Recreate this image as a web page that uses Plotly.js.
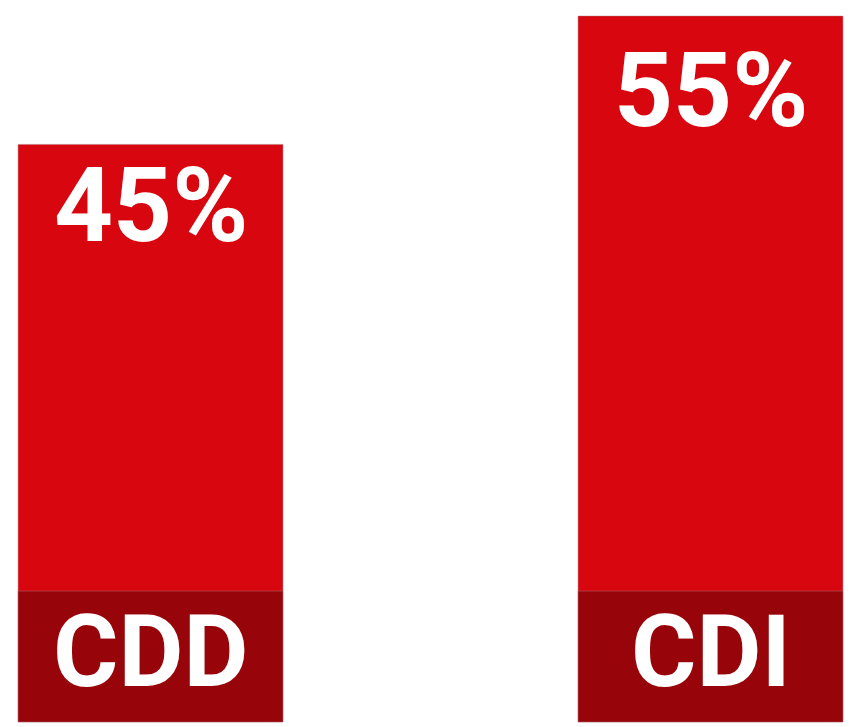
<!DOCTYPE html>
<html>
<head>
<meta charset="utf-8">
<script src="https://cdn.plot.ly/plotly-3.0.1.min.js"></script>
<style>html,body{margin:0;padding:0;background:#fff;}#chart{width:858px;height:727px;}</style>
</head>
<body>
<div id="chart"></div>
<script>
const categories = ["CDD", "CDI"];
const values = [45, 55];
const valueLabels = ["45%", "55%"];

const BAND = 10.2;
const LABEL_FRAC = 0.895;
const RED = "#D7060F";
const DARK = "#97050A";
const FONT = "Roboto, 'Open Sans', sans-serif";

const mainBar = {
  type: "bar",
  x: categories,
  y: values,
  width: 0.473,
  marker: { color: RED, line: { color: "rgba(170,120,120,0.45)", width: 1 } },
  hoverinfo: "skip",
  showlegend: false
};
const bandBar = {
  type: "bar",
  x: categories,
  y: categories.map(() => BAND),
  width: 0.473,
  marker: { color: DARK, line: { color: "rgba(170,120,120,0.45)", width: 1 } },
  hoverinfo: "skip",
  showlegend: false
};

const annotations = [];
categories.forEach((c, i) => {
  annotations.push({
    x: c, y: values[i] * LABEL_FRAC, xref: "x", yref: "y",
    text: "<b>" + valueLabels[i] + "</b>", showarrow: false,
    yanchor: "middle",
    font: { family: FONT, size: 103, color: "#ffffff" }
  });
  annotations.push({
    x: c, y: BAND / 2, xref: "x", yref: "y",
    text: "<b>" + c + "</b>", showarrow: false,
    yanchor: "middle", yshift: 5,
    font: { family: FONT, size: 100, color: "#ffffff" }
  });
});

const layout = {
  width: 858, height: 727,
  margin: { l: 0, r: 0, t: 0, b: 0, pad: 0 },
  paper_bgcolor: "#ffffff", plot_bgcolor: "#ffffff",
  barmode: "overlay",
  xaxis: { range: [-0.2688, 1.2634], visible: false, fixedrange: true },
  yaxis: { range: [-0.39, 56.25], visible: false, fixedrange: true },
  annotations: annotations
};

Plotly.newPlot("chart", [mainBar, bandBar], layout, { displayModeBar: false, staticPlot: true });
</script>
</body>
</html>
